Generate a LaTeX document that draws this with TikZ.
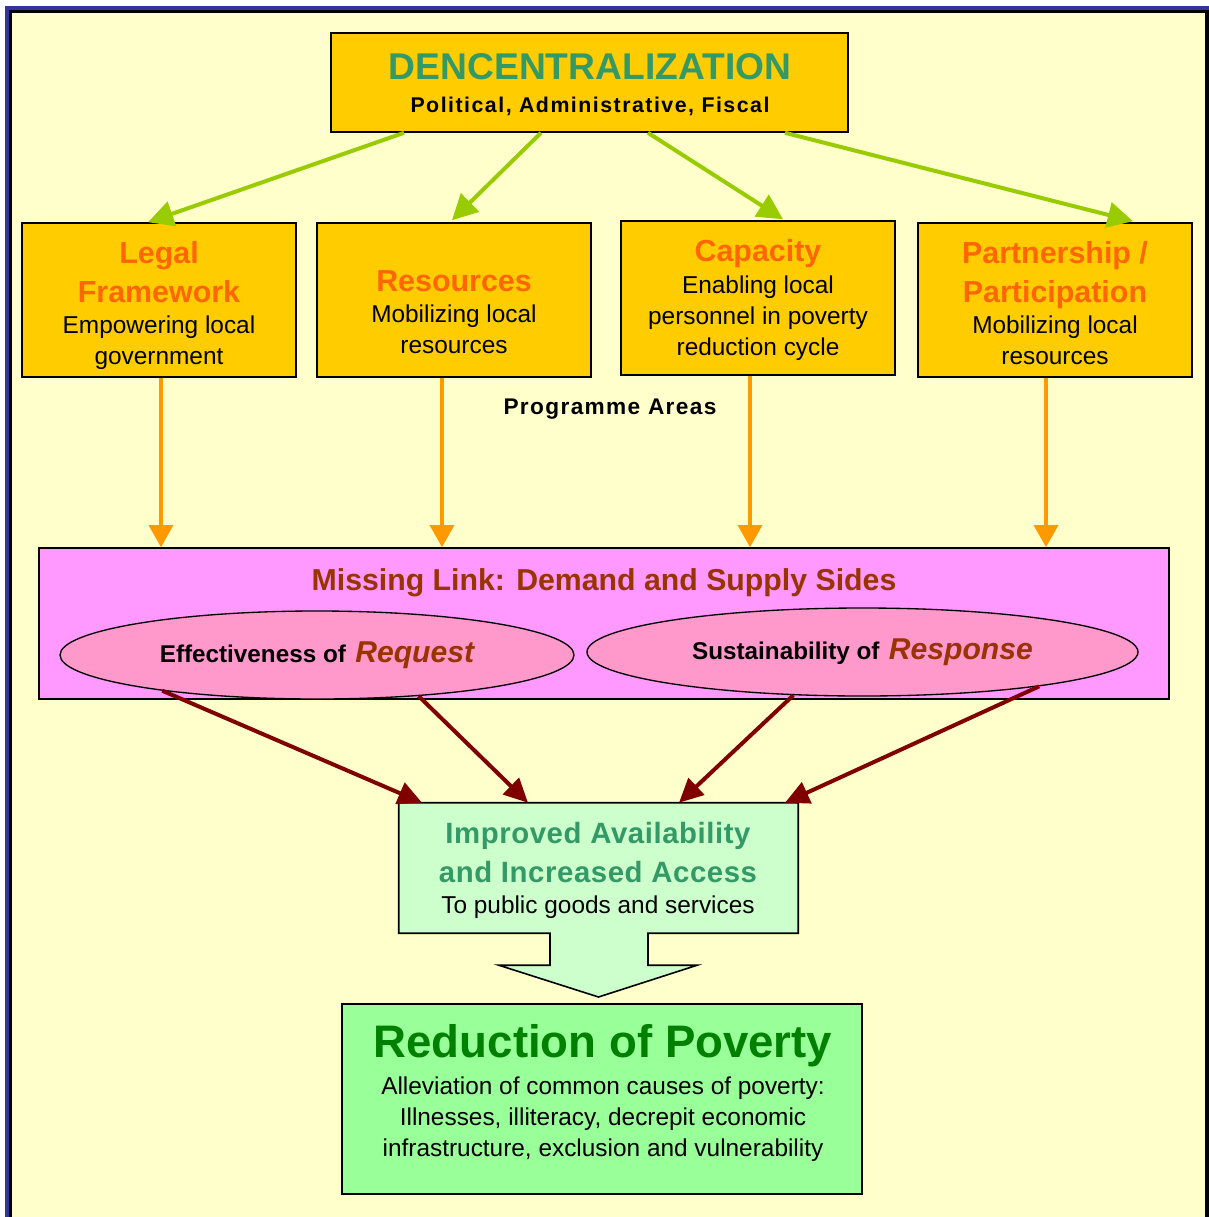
\documentclass[tikz,border=0pt]{standalone}
\usepackage{fontspec}
\setmainfont{Liberation Sans}
\usetikzlibrary{shapes.geometric,arrows.meta,calc}

\definecolor{paper}{HTML}{FFFFCC}
\definecolor{frameblue}{HTML}{333399}
\definecolor{gold}{HTML}{FFCC00}
\definecolor{titleorange}{HTML}{FF6600}
\definecolor{seagreen}{HTML}{339966}
\definecolor{limegreen}{HTML}{99CC00}
\definecolor{amber}{HTML}{FF9900}
\definecolor{violetpink}{HTML}{FF99FF}
\definecolor{rosepink}{HTML}{FF99CC}
\definecolor{rust}{HTML}{993300}
\definecolor{darkred}{HTML}{800000}
\definecolor{palegreen}{HTML}{CCFFCC}
\definecolor{mintgreen}{HTML}{99FF99}
\definecolor{deepgreen}{HTML}{008000}

\newcommand\fsz[2]{\fontsize{#1}{#2}\selectfont}

\begin{document}
\begin{tikzpicture}[x=0.75pt,y=-0.75pt,
  box/.style={draw=black,line width=1.2pt,rectangle,inner sep=0pt},
  areabox/.style={box,fill=gold,minimum width=205.5pt,minimum height=115.5pt},
  ttl/.style={font=\bfseries\fsz{22.8}{29.25},text=titleorange,align=center,inner sep=0pt},
  body/.style={font=\fsz{18.3}{23.25},align=center,inner sep=0pt},
  oval/.style={ellipse,draw=black,line width=1pt,fill=rosepink,inner sep=0pt,minimum height=66pt},
  garrow/.style={draw=limegreen,line width=3pt,-{Triangle[length=19pt,width=19pt]}},
  oarrow/.style={draw=amber,line width=2.6pt,-{Triangle[length=16.5pt,width=18pt]}},
  rarrow/.style={draw=darkred,line width=3pt,-{Triangle[length=18pt,width=17pt]}}
]
\useasboundingbox (0,0) rectangle (1209,1217);

% page frame
\fill[white] (0,0) rectangle (1209,1217);
\fill[frameblue] (5,6) rectangle (1209,1217);
\fill[black] (9,10) rectangle (1209,1217);
\fill[paper] (12,13) rectangle (1205,1217);

% top box
\node[box,fill=gold,minimum width=387.75pt,minimum height=74.25pt] (dec) at (589.5,82.5) {};
\node[inner sep=0pt,font=\bfseries\fsz{27.9}{33},text=seagreen] (dec-t) at (590,67) {DENCENTRALIZATION};
\node[inner sep=0pt,font=\bfseries\fsz{16}{19}\addfontfeature{LetterSpace=7}] (dec-s) at (590,106) {Political, Administrative, Fiscal};

% programme area boxes
\node[areabox] (legal) at (159,300) {};
\node[areabox] (res) at (454,300) {};
\node[areabox] (cap) at (758,298) {};
\node[areabox] (part) at (1055,300) {};

\node[ttl] (legal-t) at (159,272.5) {Legal\\Framework};
\node[body] (legal-b) at (159,342.5) {Empowering local\\government};
\node[ttl] (res-t) at (454,281) {Resources};
\node[body] (res-b) at (454,329.5) {Mobilizing local\\resources};
\node[ttl] (cap-t) at (758,254) {Capacity};
\node[body] (cap-b) at (758,318.5) {Enabling local\\personnel in poverty\\reduction cycle};
\node[ttl] (part-t) at (1055,275.5) {Partnership /\\Participation};
\node[body] (part-b) at (1055,340.5) {Mobilizing local\\resources};

\node[inner sep=0pt,font=\bfseries\fsz{17}{20}\addfontfeature{LetterSpace=6}] (areas) at (610,409) {Programme Areas};

% decentralization to programme areas
\draw[garrow] ($(dec.south)+(-185.5,0)$) -- ($(legal.north)+(-11,0)$);
\draw[garrow] ($(dec.south)+(-48.5,0)$) -- ($(res.north)+(-2,-2)$);
\draw[garrow] ($(dec.south)+(58.5,0)$) -- ($(cap.north)+(25,-1)$);
\draw[garrow] ($(dec.south)+(195.5,0)$) -- ($(part.north)+(78,-1)$);

% missing link panel
\node[box,fill=violetpink,minimum width=847.5pt,minimum height=113.25pt] (link) at (604,623.5) {};
\node[inner sep=0pt,font=\bfseries\fsz{22.7}{27},text=rust] (link-t) at (604,583) {Missing Link: Demand and Supply Sides};

\node[oval,minimum width=385.5pt] (req) at (317,655)
  {{\bfseries\fsz{18.2}{22}Effectiveness of}\hspace{7pt}{\bfseries\itshape\fsz{22.6}{26}\color{rust}Request}};
\node[oval,minimum width=413.25pt] (resp) at (862.5,652)
  {{\bfseries\fsz{18.2}{22}Sustainability of}\hspace{7pt}{\bfseries\itshape\fsz{22.6}{26}\color{rust}Response}};

% programme areas to missing link
\draw[oarrow] ($(legal.south)+(2,0)$) coordinate (o1) -- (o1 |- link.north);
\draw[oarrow] ($(res.south)+(-12,0)$) coordinate (o2) -- (o2 |- link.north);
\draw[oarrow] ($(cap.south)+(-8,0)$) coordinate (o3) -- (o3 |- link.north);
\draw[oarrow] ($(part.south)+(-9,0)$) coordinate (o4) -- (o4 |- link.north);

% access callout
\node[inner sep=0pt,minimum width=299.25pt,minimum height=97.5pt] (access) at (598.5,868) {};
\coordinate (tip) at (598.5,997);
\draw[box,fill=palegreen] (access.north west) -- (access.north east) -- (access.south east)
  -- ($(access.south)+(49.5,0)$) -- ($(access.south)+(49.5,32)$) -- ($(access.south)+(98.5,32)$)
  -- (tip) -- ($(access.south)+(-99.5,32)$) -- ($(access.south)+(-48.5,32)$)
  -- ($(access.south)+(-48.5,0)$) -- (access.south west) -- cycle;
\node[inner sep=0pt,align=center,font=\bfseries\fsz{22}{29.25}\addfontfeature{LetterSpace=2},text=seagreen] (access-t) at (598,852.5) {Improved Availability\\and Increased Access};
\node[body] (access-b) at (598,907) {To public goods and services};

% links to access
\draw[rarrow] (req.193) -- ($(access.north)+(-176.5,0)$);
\draw[rarrow] (req.338) -- ($(access.north)+(-70.5,0)$);
\draw[rarrow] (resp.212) -- ($(access.north)+(80.5,0)$);
\draw[rarrow] (resp.349.5) -- ($(access.north)+(186.5,0)$);

% outcome box
\node[box,fill=mintgreen,minimum width=390pt,minimum height=142.5pt] (pov) at (602,1099) {};
\node[inner sep=0pt,font=\bfseries\fsz{34.2}{40},text=deepgreen] (pov-t) at (603,1046) {Reduction of Poverty};
\node[body] (pov-b) at (603,1119) {Alleviation of common causes of poverty:\\Illnesses, illiteracy, decrepit economic\\infrastructure, exclusion and vulnerability};

\end{tikzpicture}
\end{document}
